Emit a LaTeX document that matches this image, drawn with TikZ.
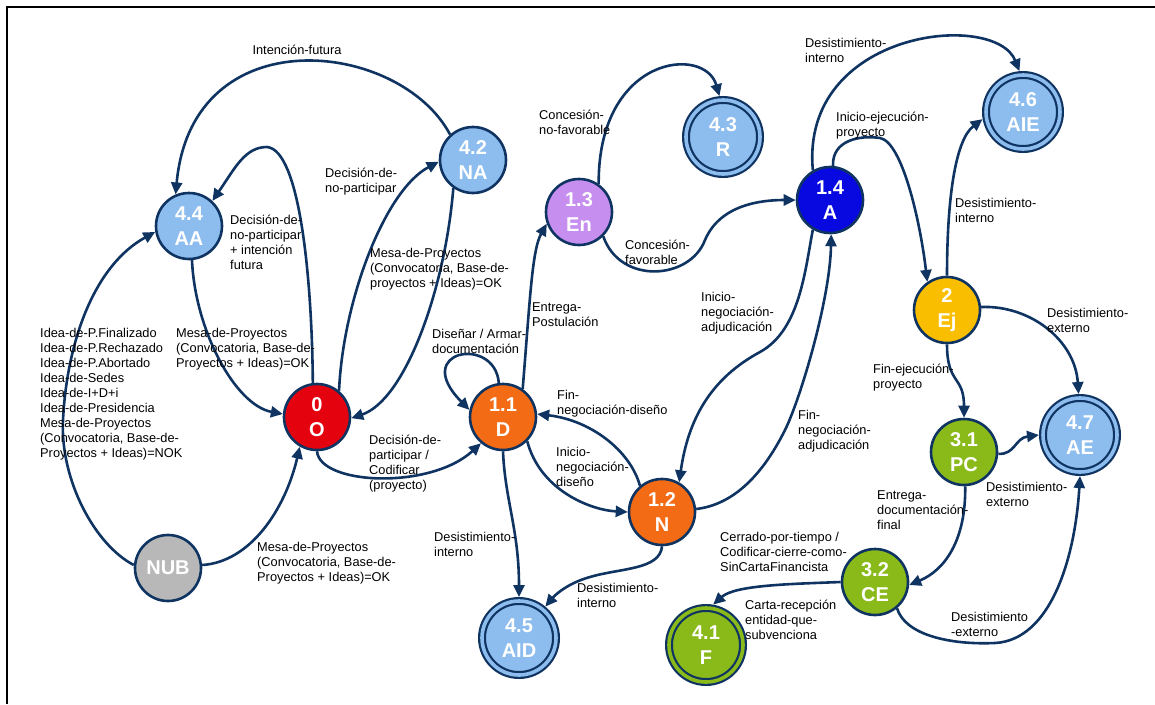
\documentclass[tikz,border=0pt]{standalone}
\usepackage{fontspec}
\setmainfont{Liberation Sans}
\usetikzlibrary{arrows.meta}

\definecolor{navy}{RGB}{16,52,98}
\definecolor{endblue}{RGB}{141,189,238}
\definecolor{stred}{RGB}{228,2,14}
\definecolor{storange}{RGB}{243,107,20}
\definecolor{stlilac}{RGB}{198,142,238}
\definecolor{stblue}{RGB}{8,8,225}
\definecolor{stgold}{RGB}{250,190,0}
\definecolor{stgreen}{RGB}{138,186,26}
\definecolor{stgrey}{RGB}{184,184,184}

\begin{document}
\begin{tikzpicture}[x=1pt,y=-1pt,
  edge/.style={draw=navy, line width=2.6pt, -{Triangle[length=12pt,width=11pt]}},
  state/.style={circle, draw=navy, line width=2.6pt, minimum size=66pt, inner sep=0pt,
    text=white, font=\fontsize{20}{25}\selectfont\bfseries, align=center},
  final/.style={circle, draw=navy, line width=2.2pt, double distance=3.6pt,
    minimum size=74pt, inner sep=0pt, outer sep=4pt,
    text=white, font=\fontsize{20}{25}\selectfont\bfseries, align=center},
  % labels are placed by the baseline of their last line
  lbl/.style={anchor=base west, align=left, inner sep=0pt,
    font=\fontsize{12.8}{15}\selectfont, text=black}
]
\useasboundingbox (0,0) rectangle (1155,704);

% frame
\draw[line width=2pt] (7,704) -- (7,7) -- (1155,7);

% states
\node[state, fill=endblue]  (AA)  at (189,226) {4.4\\AA};
\node[state, fill=stred]    (O)   at (317,417) {0\\O};
\node[state, fill=endblue]  (NA)  at (473,160) {4.2\\NA};
\node[state, fill=stgrey]   (NUB) at (168,568) {NUB};
\node[state, fill=storange] (D)   at (503,417) {1.1\\D};
\node[state, fill=stlilac]  (En)  at (579,212) {1.3\\En};
\node[state, fill=stblue]   (A)   at (830,200) {1.4\\A};
\node[state, fill=stgold]   (Ej)  at (947,310) {2\\Ej};
\node[state, fill=stgreen]  (PC)  at (964,452) {3.1\\PC};
\node[state, fill=stgreen]  (CE)  at (875,582) {3.2\\CE};
\node[state, fill=storange] (N)   at (662,512) {1.2\\N};

% final states
\node[final, fill=endblue, double=endblue] (R)   at (723,137) {4.3\\R};
\node[final, fill=endblue, double=endblue] (AIE) at (1023,112) {4.6\\AIE};
\node[final, fill=endblue, double=endblue] (AE)  at (1080,435) {4.7\\AE};
\node[final, fill=endblue, double=endblue] (AID) at (519,638) {4.5\\AID};
\node[final, fill=stgreen, double=stgreen] (F)   at (706,645) {4.1\\F};

% transitions
\draw[edge] (NA.132) .. controls (400,40) and (192,16) .. (AA.113);
\draw[edge] (O.97) .. controls (312,280) and (300,150) .. (267,147)
            .. controls (245,147) and (235,168) .. (AA.47);
\draw[edge] (AA.-85) .. controls (195,330) and (235,405) .. (O.175);
\draw[edge] (O.50) .. controls (343,300) and (385,190) .. (NA.183);
\draw[edge] (NA.-125) .. controls (445,290) and (405,400) .. (O.-2);
\draw[edge] (NUB.175) .. controls (95,545) and (60,480) .. (63,420)
            .. controls (67,340) and (95,265) .. (AA.190);
\draw[edge] (NUB.5) .. controls (250,562) and (285,510) .. (O.-120);
\draw[edge] (O.-90) .. controls (320,485) and (430,490) .. (D.-130);
\draw[edge] (D.97) .. controls (495,335) and (410,350) .. (D.168);
\draw[edge] (D.55) .. controls (530,300) and (532,250) .. (En.200);
\draw[edge] (En.55) .. controls (598,55) and (705,45) .. (R.95);
\draw[edge] (En.-45) .. controls (620,285) and (690,280) .. (705,240)
            .. controls (720,205) and (760,200) .. (A.180);
\draw[edge] (D.-45) .. controls (540,490) and (590,510) .. (N.180);
\draw[edge] (N.130) .. controls (630,450) and (590,420) .. (D.5);
\draw[edge] (A.-120) .. controls (805,270) and (800,330) .. (760,352)
            .. controls (710,379) and (688,420) .. (N.60);
\draw[edge] (N.5) .. controls (730,505) and (760,480) .. (785,430)
            .. controls (800,400) and (830,300) .. (A.-88);
\draw[edge] (A.120) .. controls (800,30) and (995,10) .. (AIE.95);
\draw[edge] (A.85) .. controls (832,140) and (860,135) .. (880,138)
            .. controls (902,142) and (920,220) .. (Ej.125);
\draw[edge] (Ej.90) .. controls (947,200) and (955,140) .. (AIE.190);
\draw[edge] (Ej.5) .. controls (1030,305) and (1075,340) .. (AE.92);
\draw[edge] (Ej.-90) .. controls (947,385) and (964,375) .. (PC.90);
\draw[edge] (PC.-3) .. controls (1015,455) and (1015,438) .. (AE.180);
\draw[edge] (PC.-88) .. controls (966,540) and (945,570) .. (CE.-5);
\draw[edge] (CE.180) .. controls (790,584) and (735,585) .. (F.80);
\draw[edge] (N.-90) .. controls (660,570) and (620,568) .. (590,577)
            .. controls (568,583) and (555,595) .. (AID.50);
\draw[edge] (D.-90) .. controls (505,500) and (519,530) .. (AID.90);
\draw[edge] (CE.-50) .. controls (905,635) and (950,645) .. (995,643)
            .. controls (1050,640) and (1075,560) .. (AE.-90);

% transition labels
\node[lbl, anchor=base] (l1) at (297,54.5) {Intención-futura};
\node[lbl] (l2)  at (230,269.5) {Decisión-de-\\no-participar\\+ intención\\futura};
\node[lbl] (l3)  at (176,367.5) {Mesa-de-Proyectos\\(Convocatoria, Base-de-\\Proyectos + Ideas)=OK};
\node[lbl] (l4)  at (325,192.5) {Decisión-de-\\no-participar};
\node[lbl] (l5)  at (370,287.5) {Mesa-de-Proyectos\\(Convocatoria, Base-de-\\proyectos + Ideas)=OK};
\node[lbl] (l6)  at (40,457.5) {Idea-de-P.Finalizado\\Idea-de-P.Rechazado\\Idea-de-P.Abortado\\Idea-de-Sedes\\Idea-de-I+D+i\\Idea-de-Presidencia\\Mesa-de-Proyectos\\(Convocatoria, Base-de-\\Proyectos + Ideas)=NOK};
\node[lbl] (l7)  at (257,581.5) {Mesa-de-Proyectos\\(Convocatoria, Base-de-\\Proyectos + Ideas)=OK};
\node[lbl] (l8)  at (369,489.5) {Decisión-de-\\participar /\\Codificar\\(proyecto)};
\node[lbl] (l9)  at (432,353.5) {Diseñar / Armar-\\documentación};
\node[lbl] (l10) at (532,326.5) {Entrega-\\Postulación};
\node[lbl] (l11) at (539,134.5) {Concesión-\\no-favorable};
\node[lbl] (l12) at (625,264.5) {Concesión-\\favorable};
\node[lbl] (l13) at (556,486.5) {Inicio-\\negociación-\\diseño};
\node[lbl] (l14) at (557,414.5) {Fin-\\negociación-diseño};
\node[lbl] (l15) at (701,331.5) {Inicio-\\negociación-\\adjudicación};
\node[lbl] (l16) at (798,449.5) {Fin-\\negociación-\\adjudicación};
\node[lbl] (l17) at (805,62.5) {Desistimiento-\\interno};
\node[lbl] (l18) at (836,136.5) {Inicio-ejecución-\\proyecto};
\node[lbl] (l19) at (955,222.5) {Desistimiento-\\interno};
\node[lbl] (l20) at (1047,332.5) {Desistimiento-\\externo};
\node[lbl] (l21) at (873,388.5) {Fin-ejecución-\\proyecto};
\node[lbl] (l22) at (986,506.5) {Desistimiento-\\externo};
\node[lbl] (l23) at (877,529.5) {Entrega-\\documentación-\\final};
\node[lbl] (l24) at (720,571.5) {Cerrado-por-tiempo /\\Codificar-cierre-como-\\SinCartaFinancista};
\node[lbl] (l25) at (745,639.5) {Carta-recepción\\entidad-que-\\subvenciona};
\node[lbl] (l26) at (577,607.5) {Desistimiento-\\interno};
\node[lbl] (l27) at (434,556.5) {Desistimiento-\\interno};
\node[lbl] (l28) at (951,636.5) {Desistimiento\\-externo};
\end{tikzpicture}
\end{document}
